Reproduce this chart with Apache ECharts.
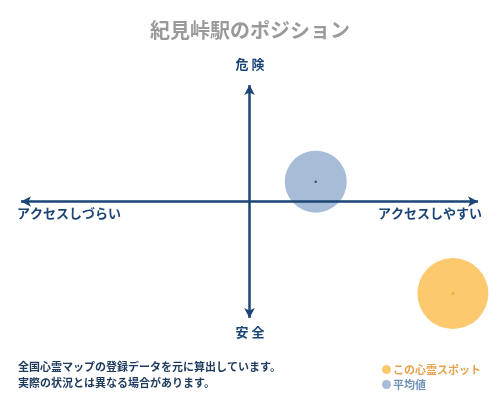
<!DOCTYPE html>
<html><head><meta charset="utf-8">
<script src="https://cdn.jsdelivr.net/npm/echarts@6/dist/echarts.min.js"></script>
<style>html,body{margin:0;padding:0;background:#fff}#c{width:500px;height:400px}</style>
</head><body><div id="c"></div>
<script>
const titleText = '紀見峠駅のポジション';
const axisTop = '危 険';
const axisBottom = '安 全';
const axisLeft = 'アクセスしづらい';
const axisRight = 'アクセスしやすい';
const notes = ['全国心霊マップの登録データを元に算出しています。', '実際の状況とは異なる場合があります。'];
const seriesNames = ['この心霊スポット', '平均値'];
const spotPoint = [8.9, -7.9];
const avgPoint = [2.9, 1.7];
const bubbleSizes = [71, 62];
const axisMin = -10;
const axisMax = 10;

const navy = '#1b4576';
const F = '"Noto Sans CJK JP", "Noto Sans", sans-serif';
const chart = echarts.init(document.getElementById('c'));
chart.setOption({
  animation: false,
  backgroundColor: '#fff',
  title: { text: titleText, left: 'center', top: 15,
    textStyle: { fontFamily: F, fontSize: 20, fontWeight: 'bold', color: '#9a9a9a' } },
  grid: { left: 21, right: 22, top: 85, bottom: 82 },
  xAxis: { type: 'value', min: axisMin, max: axisMax, splitLine: { show: false },
    axisTick: { show: false }, axisLabel: { show: false }, axisLine: { show: false } },
  yAxis: { type: 'value', min: axisMin, max: axisMax, splitLine: { show: false },
    axisTick: { show: false }, axisLabel: { show: false }, axisLine: { show: false } },
  legend: {
    orient: 'vertical', left: 377, top: 359, itemGap: 4, itemWidth: 9, itemHeight: 9,
    icon: 'circle',
    data: [
      { name: seriesNames[0], textStyle: { color: '#e8a24e' } },
      { name: seriesNames[1], textStyle: { color: '#6f92b8' } }
    ],
    textStyle: { fontFamily: F, fontSize: 11, fontWeight: 'bold', padding: [0, 0, 0, -3] }
  },
  graphic: [
    { type: 'text', left: 'center', top: 58, style: { text: axisTop, fill: navy, font: 'bold 13px ' + F } },
    { type: 'text', left: 'center', top: 326, style: { text: axisBottom, fill: navy, font: 'bold 13px ' + F } },
    { type: 'text', left: 17, top: 207, style: { text: axisLeft, fill: navy, font: 'bold 13px ' + F } },
    { type: 'text', right: 18, top: 207, style: { text: axisRight, fill: navy, font: 'bold 13px ' + F } },
    { type: 'text', left: 18, top: 361, style: { text: notes[0], fill: '#1d3a5c', font: 'bold 11px ' + F } },
    { type: 'text', left: 18, top: 377, style: { text: notes[1], fill: '#1d3a5c', font: 'bold 11px ' + F } }
  ],
  series: [
    { name: seriesNames[0], type: 'scatter', data: [spotPoint], symbolSize: bubbleSizes[0],
      itemStyle: { color: '#fdc96e', opacity: 1 }, z: 1 },
    { name: seriesNames[1], type: 'scatter', data: [avgPoint], symbolSize: bubbleSizes[1],
      itemStyle: { color: 'rgb(120,152,194)', opacity: 0.65 }, z: 1 },
    { name: 'axes', type: 'scatter', data: [], z: 5,
      markLine: {
        silent: true, symbol: ['arrow', 'arrow'], symbolSize: [8, 10],
        label: { show: false },
        lineStyle: { color: navy, width: 2.5, type: 'solid', opacity: 1 },
        data: [
          [{ coord: [axisMin, 0] }, { coord: [axisMax, 0] }],
          [{ coord: [0, axisMin] }, { coord: [0, axisMax] }]
        ]
      } },
    { name: 'dot1', type: 'scatter', data: [spotPoint], symbolSize: 3,
      itemStyle: { color: '#f2a62a' }, z: 11 },
    { name: 'dot2', type: 'scatter', data: [avgPoint], symbolSize: 2.5,
      itemStyle: { color: '#1d3a5c' }, z: 11 }
  ]
});
</script></body></html>
